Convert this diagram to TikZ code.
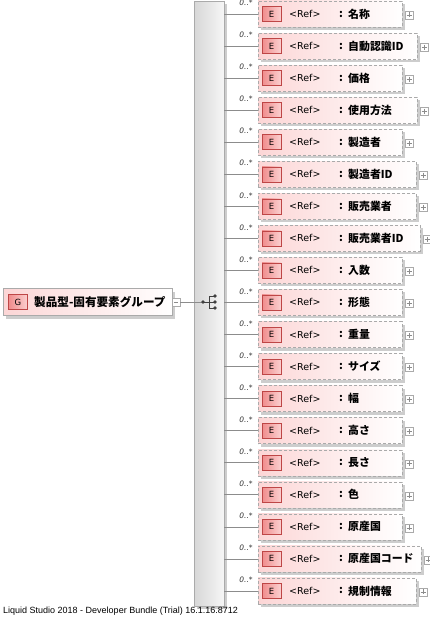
\documentclass[tikz,border=0pt]{standalone}
\usepackage{fontspec}
\setmainfont{DejaVu Sans}
\newfontfamily\jp{Noto Sans CJK JP}
\newfontfamily\lib{Liberation Sans}
\definecolor{pinkL}{RGB}{252,214,214}
\definecolor{badgeL}{RGB}{240,140,140}
\definecolor{badgeR}{RGB}{251,208,208}
\definecolor{badgeB}{RGB}{190,70,70}
\definecolor{boxB}{RGB}{170,170,170}
\definecolor{shad}{RGB}{205,205,205}
\definecolor{conn}{RGB}{140,140,140}
\definecolor{barL}{RGB}{215,215,215}
\definecolor{barR}{RGB}{246,246,246}
\tikzset{
  elbox/.style={draw=boxB, dash pattern=on 3pt off 2pt, left color=pinkL, right color=white, inner sep=0pt, minimum height=26pt, anchor=west},
  grpbox/.style={draw=boxB, left color=pinkL, right color=white, inner sep=0pt, minimum height=27pt, minimum width=169pt, anchor=west},
  badge/.style={draw=badgeB, left color=badgeL, right color=badgeR, inner sep=0pt, minimum width=19pt, minimum height=15pt, font=\fontsize{8.5}{10}\selectfont},
  reftext/.style={anchor=west, inner sep=0pt, font=\fontsize{9.5}{11}\selectfont},
  nametext/.style={anchor=west, inner sep=0pt, font=\jp\bfseries\fontsize{10.9}{13}\selectfont},
  multi/.style={inner sep=0pt, font=\itshape\fontsize{7.5}{8}\selectfont, text=black!80},
  pm/.style={draw=boxB, fill=white, inner sep=0pt, minimum size=8pt},
  connline/.style={draw=conn, line width=0.6pt},
  barbox/.style={draw=boxB, left color=barL, right color=barR, inner sep=0pt, anchor=north west}
}
\begin{document}
\begin{tikzpicture}[x=1pt,y=-1pt]
\useasboundingbox (0,0) rectangle (430,617);
% sequence bar
\fill[shad] (197,4) rectangle (227,609);
\node[barbox, minimum width=30pt, minimum height=605pt] (bar) at (194,1) {};
% group node
\fill[shad] (6,292) rectangle (175,319);
\node[grpbox] (grp) at (3,302) {};
\node[badge] (gb) at (18,302) {G};
\node[nametext, font=\jp\bfseries\fontsize{11.6}{13}\selectfont] (gt) at (34,302) {製品型-固有要素グループ};
\node[pm] (gm) at (176,302) {};
\draw[conn, line width=0.6pt] (gm.west) ++(2,0) -- ++(4,0);
% sequence icon
\coordinate (sq) at (203,302);
\draw[connline] (gm.east) -- (sq);
\draw[black!75, line width=0.7pt] (sq) -- (209,302) (209,296) -- (209,308) (209,296) -- (215,296) (209,302) -- (215,302) (209,308) -- (215,308);
\foreach \p in {(203,302),(215,296),(215,302),(215,308)} \fill[black!75] \p circle (1.9);
% elements
\foreach \n/\r [count=\i from 0] in {名称/402, 自動認識ID/417, 価格/402, 使用方法/417, 製造者/402, 製造者ID/416, 販売業者/416, 販売業者ID/420, 入数/402, 形態/402, 重量/402, サイズ/402, 幅/402, 高さ/402, 長さ/402, 色/402, 原産国/402, 原産国コード/421, 規制情報/416} {
  \pgfmathsetmacro\yy{14+32.05*\i}
  \pgfmathsetmacro\w{\r-258}
  \fill[shad] (261,\yy-10) rectangle (\r+3,\yy+16);
  \node[elbox, minimum width=\w pt] (e\i) at (258,\yy) {};
  \draw[connline] (bar.east |- e\i.west) -- (e\i.west);
  \node[badge] (b\i) at (271.5,\yy) {E};
  \node[reftext] (r\i) at (289,\yy) {<Ref>};
  \node[nametext] (c\i) at (339,\yy) {:};
  \node[nametext] (n\i) at (348,\yy) {\n};
  \node[pm] (p\i) at (\r+7,\yy+1) {};
  \draw[conn, line width=0.5pt] (p\i.center) ++(-2.5,0) -- ++(5,0) (p\i.center) ++(0,-2.5) -- ++(0,5);
  \node[multi] (m\i) at (246,\yy-11) {0..*};
}
\node[anchor=west, inner sep=0pt, font=\lib\fontsize{9}{10}\selectfont] (foot) at (3,611) {Liquid Studio 2018 - Developer Bundle (Trial) 16.1.16.8712};
\end{tikzpicture}
\end{document}
